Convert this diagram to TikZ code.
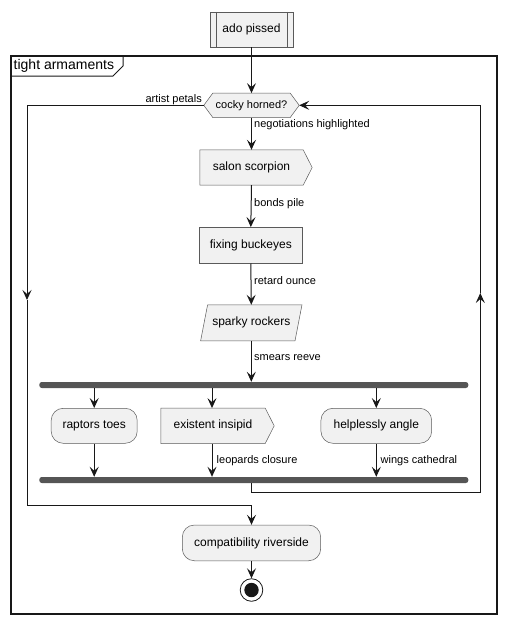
\documentclass[tikz,border=0pt]{standalone}
\usepackage{fontspec}
\setmainfont{Liberation Sans}
\usetikzlibrary{arrows.meta,backgrounds}
\definecolor{nodefill}{HTML}{F1F1F1}
\definecolor{ink}{HTML}{181818}
\definecolor{edge}{HTML}{5A5A5A}
\definecolor{barcol}{HTML}{555555}
\begin{document}
\begin{tikzpicture}[x=1pt,y=-1pt,
  txt/.style={inner sep=0pt, text=black, font=\fontsize{12}{14}\selectfont},
  plainbox/.style={txt, rectangle, draw=none, fill=none},
  roundbox/.style={txt, rectangle, rounded corners=12pt, draw=edge, fill=nodefill, line width=0.5pt},
  outline/.style={draw=edge, fill=nodefill, line width=0.5pt},
  bar/.style={rectangle, rounded corners=2.5pt, fill=barcol, draw=none, inner sep=0pt, minimum height=6pt},
  flow/.style={draw=ink, line width=1pt, -{Stealth[length=10pt,width=9pt,inset=4pt]}},
  wire/.style={draw=ink, line width=1pt},
  lab/.style={inner sep=0pt, text=black, font=\fontsize{11}{13}\selectfont},
]
\useasboundingbox (0,0) rectangle (506,624);

% partition frame with its title tab
\draw[ink, line width=1.5pt] (11,56) rectangle (497,614);
\draw[ink, line width=1pt] (11,76) -- (113,76) -- (123,66) -- (123,56);
\node[lab, anchor=west, font=\fontsize{14}{16}\selectfont] (ptitle) at (13.5,66) {tight armaments};

% activity nodes
\node[plainbox, minimum width=83pt, minimum height=35pt] (start) at (251.5,29.5) {ado pissed};
\node[plainbox, minimum width=95pt, minimum height=24pt, font=\fontsize{11}{13}\selectfont] (dec) at (251.5,105.3) {cocky horned?};
\node[plainbox, minimum width=103pt, minimum height=35pt] (salon) at (251.5,167.5) {salon scorpion};
\node[plainbox, minimum width=103pt, minimum height=36pt] (fix) at (250.8,245.3) {fixing buckeyes};
\node[plainbox, minimum width=101pt, minimum height=35.7pt] (sparky) at (251.3,322.8) {sparky rockers};
\node[bar, minimum width=429pt] (fork1) at (253.8,385) {};
\node[roundbox, minimum width=86pt, minimum height=35pt] (raptors) at (94.2,425.8) {raptors toes};
\node[plainbox, minimum width=104pt, minimum height=35pt] (exist) at (213,425.8) {existent insipid};
\node[roundbox, minimum width=110.7pt, minimum height=35pt] (help) at (376.3,425.8) {helplessly angle};
\node[bar, minimum width=429pt] (fork2) at (253.8,480) {};
\node[roundbox, minimum width=138.4pt, minimum height=35.7pt] (comp) at (251.5,542.9) {compatibility riverside};
\node[circle, draw=ink, fill=white, line width=0.8pt, minimum size=22.6pt, inner sep=0pt] (stop) at (251.5,590) {};
\fill[ink] (stop.center) circle (7.2pt);

% shaped outlines behind the texts
\begin{scope}[on background layer]
  \path[outline] (start.north west) rectangle (start.south east);
  \draw[edge, line width=0.5pt] ([xshift=6pt]start.north west) -- ([xshift=6pt]start.south west)
                                ([xshift=-6pt]start.north east) -- ([xshift=-6pt]start.south east);
  \path[outline] (dec.west) -- ([xshift=9pt]dec.north west) -- ([xshift=-9pt]dec.north east)
                 -- (dec.east) -- ([xshift=-9pt]dec.south east) -- ([xshift=9pt]dec.south west) -- cycle;
  \path[outline] (salon.north west) -- (salon.north east) -- ([xshift=9pt]salon.east)
                 -- (salon.south east) -- (salon.south west) -- cycle;
  \path[outline] (fix.north west) rectangle (fix.south east);
  \path[outline] ([xshift=7pt]sparky.north west) -- (sparky.north east)
                 -- ([xshift=-7pt]sparky.south east) -- (sparky.south west) -- cycle;
  \path[outline] (exist.north west) -- (exist.north east) -- ([xshift=9pt]exist.east)
                 -- (exist.south east) -- (exist.south west) -- cycle;
\end{scope}

% main flow
\draw[flow] (start) -- (dec);
\draw[flow] (dec.south) -- (salon.north);
\node[lab, anchor=west] (l1) at (254,125) {negotiations highlighted};
\draw[flow] (salon.south) -- (fix.north);
\node[lab, anchor=west] (l2) at (254,204) {bonds pile};
\draw[flow] (fix.south) -- (sparky.north);
\node[lab, anchor=west] (l3) at (254,281) {retard ounce};
\draw[flow] (sparky.south) -- (sparky.south |- fork1.north);
\node[lab, anchor=west] (l4) at (254,357.5) {smears reeve};

% parallel branches
\draw[flow] (fork1.south -| raptors.north) -- (raptors.north);
\draw[flow] (fork1.south -| 212,0) -- (212,0 |- exist.north);
\draw[flow] (fork1.south -| help.north) -- (help.north);
\draw[flow] (raptors.south) -- (raptors.south |- fork2.north);
\draw[flow] (212,0 |- exist.south) -- (212,0 |- fork2.north);
\node[lab, anchor=west] (l5) at (216.5,461) {leopards closure};
\draw[flow] (help.south) -- (help.south |- fork2.north);
\node[lab, anchor=west] (l6) at (380.5,461) {wings cathedral};

% loop back on the right
\coordinate (rj) at (251.5,492.7);
\coordinate (ra) at (480.3,293);
\draw[wire] (fork2.south -| rj) -- (rj) -| ([yshift=-1pt]ra);
\draw[flow] (rj -| ra) -- (ra);
\draw[flow] (ra) |- (dec.east);

% exit on the left
\coordinate (la) at (27,300);
\coordinate (lj) at (251.5,505.7);
\node[lab, anchor=east] (l0) at (202,100) {artist petals};
\draw[flow] (dec.west) -| (la);
\draw[flow] (la) |- (lj) -- (comp.north);

\draw[flow] (comp.south) -- (stop.north);
\end{tikzpicture}
\end{document}
